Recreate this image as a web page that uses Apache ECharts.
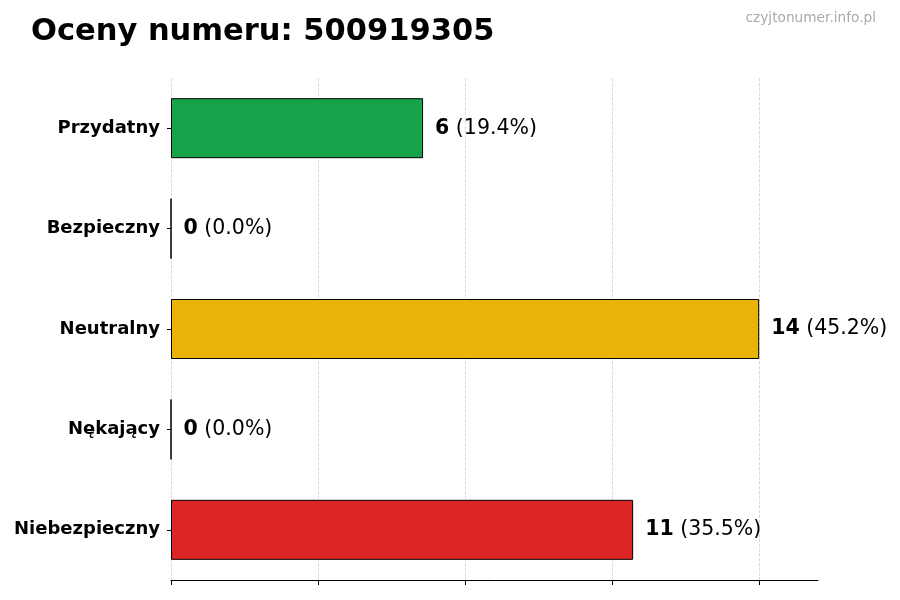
<!DOCTYPE html>
<html>
<head>
<meta charset="utf-8">
<script src="https://cdn.jsdelivr.net/npm/echarts@6/dist/echarts.min.js"></script>
<style>
  html, body { margin: 0; padding: 0; background: #fff; }
  #chart { width: 900px; height: 600px; }
</style>
</head>
<body>
<div id="chart"></div>
<script>
var categories = ['Przydatny', 'Bezpieczny', 'Neutralny', 'Nękający', 'Niebezpieczny'];
var counts = [6, 0, 14, 0, 11];
var percents = ['19.4%', '0.0%', '45.2%', '0.0%', '35.5%'];
var barColors = ['#16a34a', '#16a34a', '#eab308', '#dc2626', '#dc2626'];
var xTicks = [0, 3.5, 7, 10.5, 14];

var myChart = echarts.init(document.getElementById('chart'));

var option = {
    animation: false,
    textStyle: { fontFamily: 'DejaVu Sans' },
    title: [{
        text: 'Oceny numeru: 500919305',
        left: 31,
        top: 17,
        padding: 0,
        textStyle: { fontSize: 30.5, fontWeight: 'bold', color: '#000' }
    }, {
        text: 'czyjtonumer.info.pl',
        right: 24,
        top: 11,
        padding: 0,
        textStyle: { fontSize: 13.7, fontWeight: 'normal', color: '#aaaaaa' }
    }],
    grid: { left: 171, right: 82, top: 78, bottom: 20 },
    xAxis: {
        type: 'value',
        min: 0,
        max: 15.4,
        interval: 3.5,
        axisLine: { show: true, lineStyle: { color: '#000', width: 1 } },
        axisTick: { show: true, length: 5, customValues: xTicks, lineStyle: { color: '#000' } },
        axisLabel: { show: false, customValues: xTicks },
        splitLine: { show: true, lineStyle: { color: '#d0d0d0', type: 'dashed', width: 0.8 } }
    },
    yAxis: {
        type: 'category',
        data: categories,
        inverse: true,
        axisLine: { show: false },
        axisTick: { show: true, alignWithLabel: true, length: 4, lineStyle: { color: '#000' } },
        axisLabel: { fontSize: 18, fontWeight: 'bold', color: '#000', margin: 11 }
    },
    series: [{
        type: 'bar',
        barWidth: 60,
        data: counts.map(function (v, i) {
            return { value: v, itemStyle: { color: barColors[i] } };
        }),
        itemStyle: { borderColor: '#000', borderWidth: 1 },
        label: {
            show: true,
            position: 'right',
            distance: 12,
            formatter: function (p) {
                return '{b|' + counts[p.dataIndex] + '}{n| (' + percents[p.dataIndex] + ')}';
            },
            rich: {
                b: { fontSize: 20.5, fontWeight: 'bold', color: '#000' },
                n: { fontSize: 20.5, color: '#000' }
            }
        }
    }]
};

myChart.setOption(option);
</script>
</body>
</html>
